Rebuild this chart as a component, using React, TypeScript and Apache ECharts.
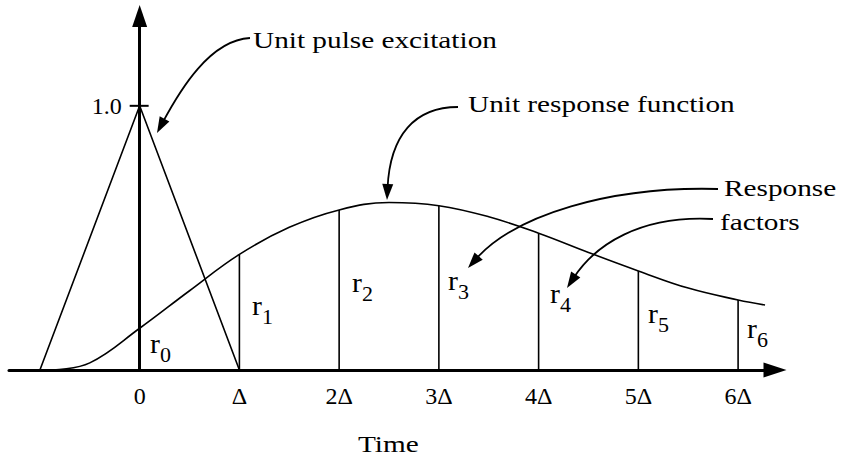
import React, { useEffect, useRef } from "react";
import * as echarts from "echarts";

// ---------- data ----------
const tickValues = [0, 1, 2, 3, 4, 5, 6];
const tickLabels = ["0", "Δ", "2Δ", "3Δ", "4Δ", "5Δ", "6Δ"];

// unit response function (x in units of Δ)
const responseX = [-0.87, -0.5, 0, 0.5, 1, 1.5, 2, 2.5, 3, 3.5, 4, 4.5, 5, 5.5, 6, 6.27];
const responseY = [0, 0.027, 0.158, 0.3, 0.4375, 0.54, 0.606, 0.634, 0.622, 0.58, 0.518, 0.445, 0.375, 0.31, 0.265, 0.246];

// unit pulse excitation
const pulseX = [-1, 0, 1];
const pulseY = [0, 1, 0];

// response factors r1..r6 (r0 lies on the y axis)
const factorX = [1, 2, 3, 4, 5, 6];
const factorY = [0.4375, 0.606, 0.622, 0.518, 0.375, 0.265];
const factorSubs = ["0", "1", "2", "3", "4", "5", "6"];

// the 1.0 tick mark crossing the y axis
const unitTickX = [-0.1, 0.09];
const unitTickY = [1, 1];

// ---------- layout (pixels) ----------
const FONT = "Liberation Serif, Times New Roman, serif";
const X_MIN = -1.31;
const X_MAX = 6.37;
const GRID_LEFT = 9;
const GRID_WIDTH = 766;
const rLabelPos: [number, number][] = [
  [150, 353],
  [252, 315],
  [352, 292],
  [448, 290],
  [550, 303],
  [648, 323],
  [747, 338],
];

type P = [number, number];
function arrow(s: P, c1: P, c2: P, tip: P, L = 16, W = 5.5) {
  const dx = tip[0] - c2[0];
  const dy = tip[1] - c2[1];
  const len = Math.hypot(dx, dy);
  const ux = dx / len;
  const uy = dy / len;
  const bx = tip[0] - ux * L;
  const by = tip[1] - uy * L;
  const nx = -uy;
  const ny = ux;
  return [
    {
      type: "bezierCurve",
      silent: true,
      shape: { x1: s[0], y1: s[1], cpx1: c1[0], cpy1: c1[1], cpx2: c2[0], cpy2: c2[1], x2: bx + ux * 4, y2: by + uy * 4 },
      style: { stroke: "#000", lineWidth: 1.8, fill: "none" },
    },
    {
      type: "polygon",
      silent: true,
      shape: { points: [tip, [bx + nx * W, by + ny * W], [bx - nx * W, by - ny * W]] },
      style: { fill: "#000" },
    },
  ];
}

function label(text: string, x: number, y: number, size = 24, sx = 1.22) {
  return {
    type: "text",
    silent: true,
    x,
    y,
    scaleX: sx,
    style: { text, x: 0, y: 0, fill: "#000", fontSize: size, fontFamily: FONT, textAlign: "left", textVerticalAlign: "middle" },
  };
}

export default function App() {
  const ref = useRef<HTMLDivElement>(null);
  useEffect(() => {
    if (!ref.current) return;
    const chart = echarts.init(ref.current, undefined, { renderer: "svg" });

    const graphics: any[] = [];
    graphics.push(label("Unit pulse excitation", 253, 40));
    graphics.push(label("Unit response function", 468, 104));
    graphics.push(label("Response", 724, 188));
    graphics.push(label("factors", 720, 222));
    graphics.push(label("Time", 358, 444));
    graphics.push(...arrow([250, 38], [210, 40], [180, 90], [157, 133]));
    graphics.push(...arrow([458, 107], [415, 107], [390, 135], [387, 200]));
    graphics.push(...arrow([718, 189], [610, 186], [515, 215], [468, 268]));
    graphics.push(...arrow([713, 219], [640, 215], [595, 245], [567, 288]));
    rLabelPos.forEach(([x, y], i) => {
      graphics.push({
        type: "text",
        silent: true,
        x,
        y: y - 9,
        scaleX: 1.1,
        style: { text: "r", x: 0, y: 0, fill: "#000", fontSize: 27, fontFamily: FONT, textAlign: "left", textVerticalAlign: "middle" },
      });
      graphics.push({
        type: "text",
        silent: true,
        x: x + 10,
        y: y + 2,
        scaleX: 1.1,
        style: { text: factorSubs[i], x: 0, y: 0, fill: "#000", fontSize: 20, fontFamily: FONT, textAlign: "left", textVerticalAlign: "middle" },
      });
    });

    // the y axis sits at x = 0: shift it from the grid's left edge to there
    const yAxisOffset = -((0 - X_MIN) / (X_MAX - X_MIN)) * GRID_WIDTH;

    chart.setOption({
      animation: false,
      backgroundColor: "#fff",
      grid: { left: GRID_LEFT, top: 16, width: GRID_WIDTH, height: 354, containLabel: false, outerBoundsMode: "none" },
      xAxis: {
        type: "value",
        min: X_MIN,
        max: X_MAX,
        axisLine: {
          show: true,
          onZero: true,
          symbol: ["none", "triangle"],
          symbolSize: [15, 23],
          lineStyle: { color: "#000", width: 3 },
        },
        axisTick: { show: false },
        splitLine: { show: false },
        axisLabel: {
          customValues: tickValues,
          formatter: (v: number) => {
            const i = tickValues.indexOf(Math.round(v));
            return i >= 0 && Math.abs(v - Math.round(v)) < 1e-6 ? tickLabels[i] : "";
          },
          margin: 14,
          color: "#000",
          fontSize: 24,
          fontFamily: FONT,
        },
      },
      yAxis: {
        type: "value",
        min: 0,
        max: 1.34,
        interval: 1,
        offset: yAxisOffset,
        axisLine: {
          show: true,
          onZero: false,
          symbol: ["none", "triangle"],
          symbolSize: [15, 22],
          lineStyle: { color: "#000", width: 3 },
        },
        axisTick: { show: false },
        splitLine: { show: false },
        axisLabel: {
          formatter: (v: number) => (Math.abs(v - 1) < 1e-6 ? "1.0" : ""),
          margin: 18,
          color: "#000",
          fontSize: 24,
          fontFamily: FONT,
        },
      },
      series: [
        {
          type: "line",
          name: "Unit response function",
          data: responseX.map((x, i) => [x, responseY[i]]),
          smooth: 0.4,
          showSymbol: false,
          lineStyle: { color: "#000", width: 1.6 },
          z: 3,
        },
        {
          type: "line",
          name: "Unit pulse excitation",
          data: pulseX.map((x, i) => [x, pulseY[i]]),
          showSymbol: false,
          lineStyle: { color: "#000", width: 1.6 },
          z: 3,
        },
        {
          type: "bar",
          name: "Response factors",
          data: factorX.map((x, i) => [x, factorY[i]]),
          barWidth: 1.6,
          itemStyle: { color: "#000" },
          z: 3,
        },
        {
          type: "line",
          name: "1.0 tick",
          data: unitTickX.map((x, i) => [x, unitTickY[i]]),
          showSymbol: false,
          lineStyle: { color: "#000", width: 2 },
          z: 4,
        },
      ],
      graphic: graphics,
    });
    return () => chart.dispose();
  }, []);
  return <div ref={ref} style={{ position: "fixed", left: 0, top: 0, width: 843, height: 458, background: "#fff" }} />;
}
